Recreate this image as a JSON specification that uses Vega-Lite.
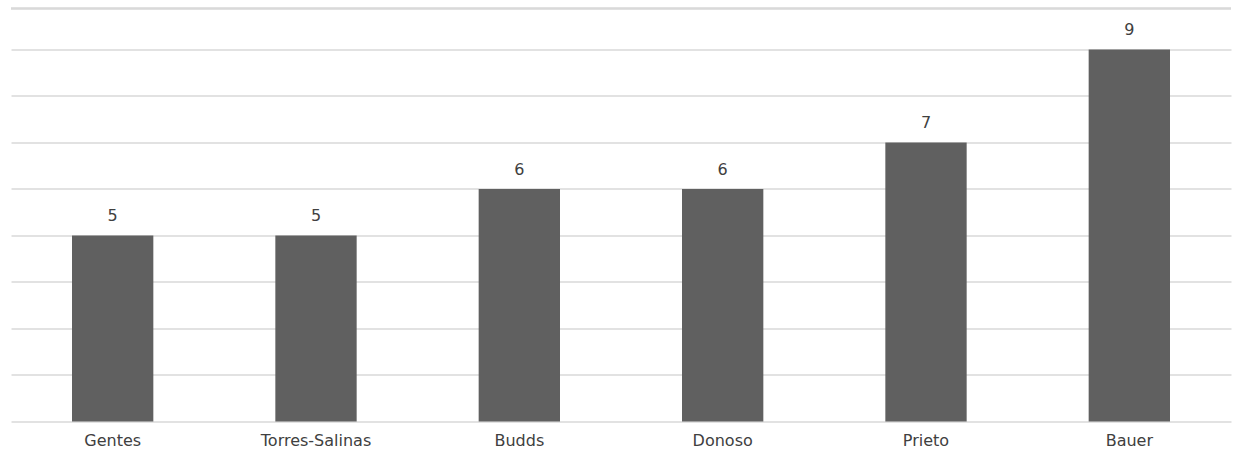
{
  "$schema": "https://vega.github.io/schema/vega-lite/v6.json",
  "width": 1220,
  "height": 413,
  "autosize": {"type": "none"},
  "padding": {"left": 11, "top": 8.5, "right": 10, "bottom": 30.5},
  "background": "white",
  "config": {"view": {"stroke": null}, "font": "DejaVu Sans", "text": {"font": "DejaVu Sans"}, "axis": {"labelFont": "DejaVu Sans"}},
  "data": {"values": [
    {"name": "Gentes", "value": 5},
    {"name": "Torres-Salinas", "value": 5},
    {"name": "Budds", "value": 6},
    {"name": "Donoso", "value": 6},
    {"name": "Prieto", "value": 7},
    {"name": "Bauer", "value": 9}
  ]},
  "layer": [
    {"mark": {"type": "bar", "color": "#606060"},
     "encoding": {
       "x": {"field": "name", "type": "nominal", "sort": null,
         "scale": {"paddingInner": 0.6, "paddingOuter": 0.3},
         "axis": {"title": null, "labelAngle": 0, "domain": false, "ticks": false, "grid": false, "labelFontSize": 16, "labelColor": "#404040", "labelPadding": 11}},
       "y": {"field": "value", "type": "quantitative", "scale": {"domain": [1, 9.88], "nice": false, "zero": false},
         "axis": {"title": null, "labels": false, "ticks": false, "domain": false, "values": [1,2,3,4,5,6,7,8,9], "gridColor": "#d9d9d9", "gridWidth": 1.5}},
       "y2": {"datum": 1}
     }},
    {"mark": {"type": "text", "baseline": "bottom", "dy": -11, "fontSize": 16, "font": "DejaVu Sans", "color": "#404040"},
     "encoding": {
       "x": {"field": "name", "type": "nominal", "sort": null},
       "y": {"field": "value", "type": "quantitative"},
       "text": {"field": "value", "type": "quantitative"}}},
    {"mark": {"type": "rule", "color": "#d9d9d9", "strokeWidth": 1.5},
     "encoding": {"y": {"datum": 9.88}}}
  ]
}
